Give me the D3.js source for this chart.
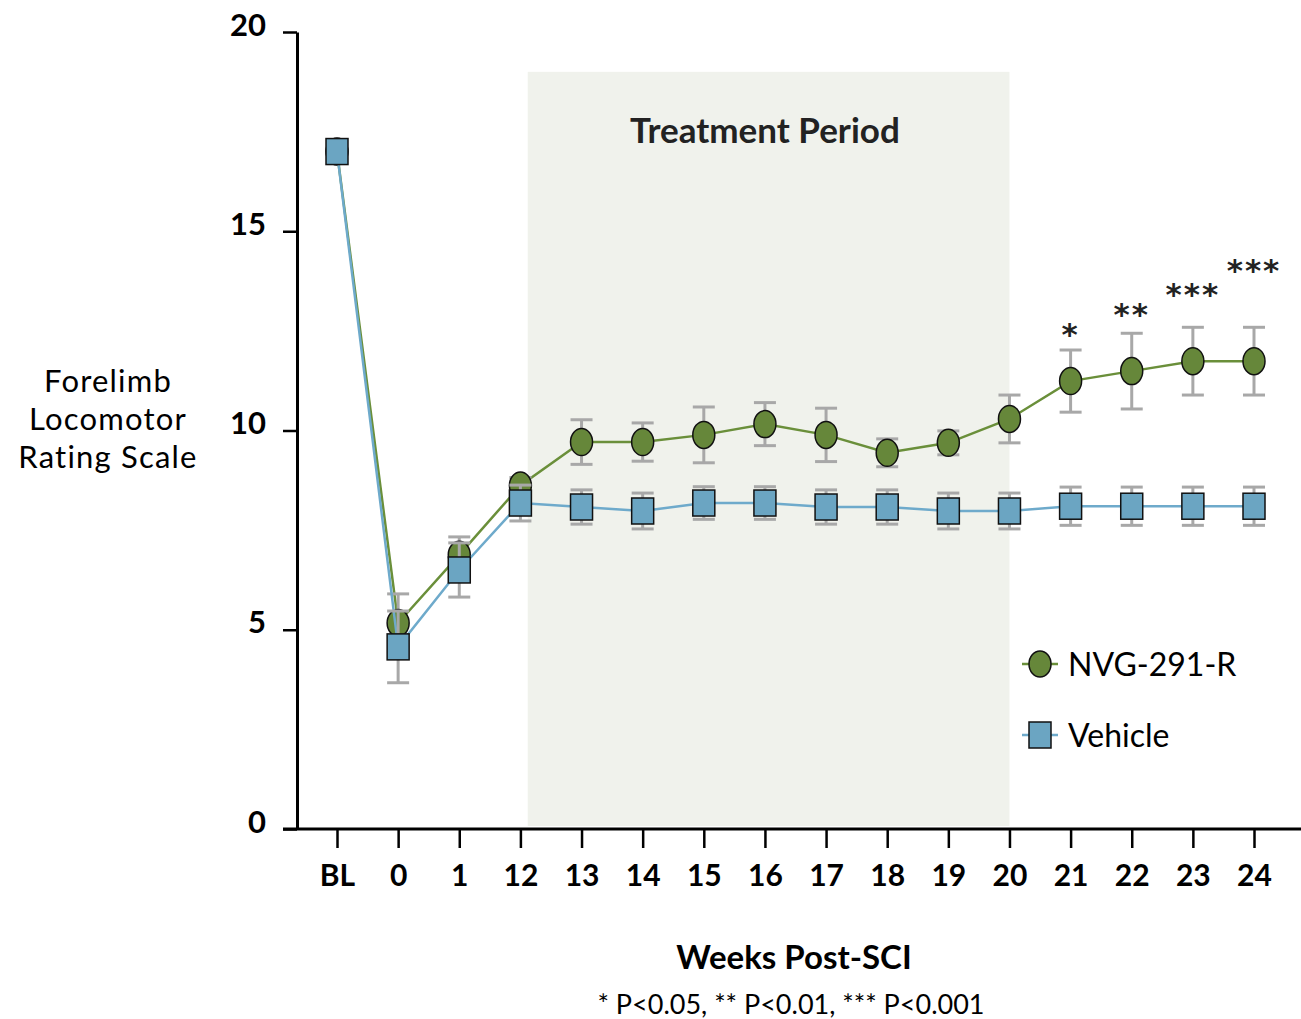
<!DOCTYPE html>
<html>
<head>
<meta charset="utf-8">
<script src="https://d3js.org/d3.v7.min.js"></script>
<style>
  body { margin: 0; background: #fff; }
  text { font-family: 'Lato', 'Open Sans', sans-serif; }
</style>
</head>
<body>
<svg width="1301" height="1019"></svg>
<script>
// chart values
var weeks = ['BL', '0', '1', '12', '13', '14', '15', '16', '17', '18', '19', '20', '21', '22', '23', '24']
var nvgMean = [17.0, 5.17, 6.88, 8.62, 9.71, 9.71, 9.89, 10.16, 9.89, 9.44, 9.69, 10.29, 11.24, 11.49, 11.74, 11.74]
var nvgErr = [0, 0.73, 0.45, 0.2, 0.56, 0.48, 0.7, 0.54, 0.67, 0.35, 0.3, 0.6, 0.78, 0.95, 0.85, 0.85]
var vehMean = [17.0, 4.57, 6.5, 8.18, 8.08, 7.98, 8.18, 8.18, 8.08, 8.08, 7.98, 7.98, 8.1, 8.1, 8.1, 8.1]
var vehErr = [0, 0.9, 0.68, 0.45, 0.43, 0.45, 0.41, 0.41, 0.43, 0.43, 0.45, 0.45, 0.48, 0.48, 0.48, 0.48]
var sigWeeks = ['21', '22', '23', '24']
var sigLabels = ['*', '**', '***', '***']
var sigLevel = [12.55, 13.05, 13.55, 14.15]
var yMajor = [0, 5, 10, 15, 20]
var yMinor = d3.range(0, 21)
var treatFrom = '12', treatFromShift = 0.12, treatTo = '20', treatTop = 19

var green = '#66873a', greenLine = '#6a8f3a'
var blue = '#6ba5c2', blueLine = '#6eaacb'
var errGrey = '#a8a8a8'

var svg = d3.select('svg')

var x = d3.scalePoint().domain(weeks).range([337, 1254])
var y = d3.scaleLinear().domain([0, 20]).range([829, 32])
var axisX = 297

// treatment period band
svg.append('rect')
    .attr('x', x(treatFrom) + treatFromShift * x.step())
    .attr('y', y(treatTop))
    .attr('width', x(treatTo) - x(treatFrom) - treatFromShift * x.step())
    .attr('height', y(0) - y(treatTop) - 3)
    .attr('fill', '#f0f2ec')

svg.append('text')
    .attr('x', x('16'))
    .attr('y', y(17.22))
    .attr('text-anchor', 'middle')
    .style('font-size', '35px')
    .style('font-weight', 'bold')
    .attr('fill', '#222')
    .text('Treatment Period')

// y axis
var gy = svg.append('g').attr('transform', 'translate(' + axisX + ',0)')
gy.call(d3.axisLeft(y).tickValues(yMinor).tickSize(9).tickSizeOuter(0).tickFormat(''))
gy.call(d3.axisLeft(y).tickValues(yMajor).tickSize(14).tickSizeOuter(0).tickPadding(17))
gy.selectAll('path.domain').attr('stroke', '#000').attr('stroke-width', 3)
gy.selectAll('line').attr('stroke', '#000').attr('stroke-width', 2.5)
gy.selectAll('text')
    .attr('dy', '0.1em')
    .style('font-size', '31px')
    .style('font-weight', 'bold')
    .attr('fill', '#000')

// x axis
var gx = svg.append('g').attr('transform', 'translate(0,' + y(0) + ')')
gx.call(d3.axisBottom(x).tickSize(19).tickSizeOuter(0).tickPadding(17))
gx.select('path.domain').remove()
gx.append('line')
    .attr('x1', axisX - 14).attr('x2', 1301)
    .attr('stroke', '#000').attr('stroke-width', 3)
gx.selectAll('.tick line').attr('stroke', '#000').attr('stroke-width', 2.5)
gx.selectAll('.tick text')
    .style('font-size', '30px')
    .style('font-weight', 'bold')
    .attr('fill', '#000')

// series
function drawSeries(mean, err, lineColor, fill, shape) {
  var pts = weeks.map(function (w, i) { return { w: w, v: mean[i], e: err[i] } })
  var line = d3.line().x(function (d) { return x(d.w) }).y(function (d) { return y(d.v) })
  svg.append('path')
      .datum(pts)
      .attr('d', line)
      .attr('fill', 'none')
      .attr('stroke', lineColor)
      .attr('stroke-width', 2.5)

  var eb = svg.append('g')
  var withErr = pts.filter(function (d) { return d.e > 0 })
  eb.selectAll('line.v').data(withErr).join('line')
      .attr('x1', function (d) { return x(d.w) })
      .attr('x2', function (d) { return x(d.w) })
      .attr('y1', function (d) { return y(d.v + d.e) })
      .attr('y2', function (d) { return y(d.v - d.e) })
  eb.selectAll('line.t').data(withErr).join('line')
      .attr('x1', function (d) { return x(d.w) - 11 })
      .attr('x2', function (d) { return x(d.w) + 11 })
      .attr('y1', function (d) { return y(d.v + d.e) })
      .attr('y2', function (d) { return y(d.v + d.e) })
  eb.selectAll('line.b').data(withErr).join('line')
      .attr('x1', function (d) { return x(d.w) - 11 })
      .attr('x2', function (d) { return x(d.w) + 11 })
      .attr('y1', function (d) { return y(d.v - d.e) })
      .attr('y2', function (d) { return y(d.v - d.e) })
  eb.selectAll('line').attr('stroke', errGrey).attr('stroke-width', 3)

  var mk = svg.append('g')
  if (shape === 'circle') {
    mk.selectAll('ellipse').data(pts).join('ellipse')
        .attr('cx', function (d) { return x(d.w) })
        .attr('cy', function (d) { return y(d.v) })
        .attr('rx', 11).attr('ry', 13.5)
        .attr('fill', fill).attr('stroke', '#111').attr('stroke-width', 1.5)
  } else {
    mk.selectAll('rect').data(pts).join('rect')
        .attr('x', function (d) { return x(d.w) - 11 })
        .attr('y', function (d) { return y(d.v) - 13 })
        .attr('width', 22).attr('height', 26)
        .attr('fill', fill).attr('stroke', '#111').attr('stroke-width', 1.5)
  }
}

drawSeries(nvgMean, nvgErr, greenLine, green, 'circle')
drawSeries(vehMean, vehErr, blueLine, blue, 'square')

// significance marks
svg.selectAll('text.sig').data(sigWeeks).join('text')
    .attr('class', 'sig')
    .attr('x', function (d) { return x(d) })
    .attr('y', function (d, i) { return y(sigLevel[i]) + 16 })
    .attr('text-anchor', 'middle')
    .style('font-family', "'DejaVu Sans', sans-serif")
    .style('font-size', '31px')
    .style('font-weight', 'bold')
    .style('letter-spacing', '2px')
    .attr('fill', '#222')
    .text(function (d, i) { return sigLabels[i] })

// y label
var yl = svg.append('text')
    .attr('text-anchor', 'middle')
    .style('font-size', '31px')
    .style('letter-spacing', '1.2px')
    .attr('fill', '#000')
;['Forelimb', 'Locomotor', 'Rating Scale'].forEach(function (s, i) {
  yl.append('tspan').attr('x', 108).attr('y', 392 + i * 38).text(s)
})

// x label + footnote
svg.append('text')
    .attr('x', 794).attr('y', 969)
    .attr('text-anchor', 'middle')
    .style('font-size', '33px')
    .style('font-weight', 'bold')
    .attr('fill', '#000')
    .text('Weeks Post-SCI')

svg.append('text')
    .attr('x', 791).attr('y', 1014)
    .attr('text-anchor', 'middle')
    .style('font-size', '27px')
    .attr('fill', '#000')
    .text('* P<0.05, ** P<0.01, *** P<0.001')

// legend
var legend = [
  { name: 'NVG-291-R', fill: green, line: greenLine, shape: 'circle', y: 664 },
  { name: 'Vehicle', fill: blue, line: blueLine, shape: 'square', y: 735 }
]
legend.forEach(function (l) {
  var g = svg.append('g').attr('transform', 'translate(1040,' + l.y + ')')
  g.append('line').attr('x1', -18).attr('x2', 18).attr('stroke', l.line).attr('stroke-width', 2.5)
  if (l.shape === 'circle') {
    g.append('ellipse').attr('rx', 11).attr('ry', 13)
        .attr('fill', l.fill).attr('stroke', '#111').attr('stroke-width', 1.5)
  } else {
    g.append('rect').attr('x', -11).attr('y', -13).attr('width', 22).attr('height', 26)
        .attr('fill', l.fill).attr('stroke', '#111').attr('stroke-width', 1.5)
  }
  g.append('text')
      .attr('x', 28).attr('y', 0).attr('dy', '0.36em')
      .style('font-size', '32px')
      .attr('fill', '#000')
      .text(l.name)
})
</script>
</body>
</html>
